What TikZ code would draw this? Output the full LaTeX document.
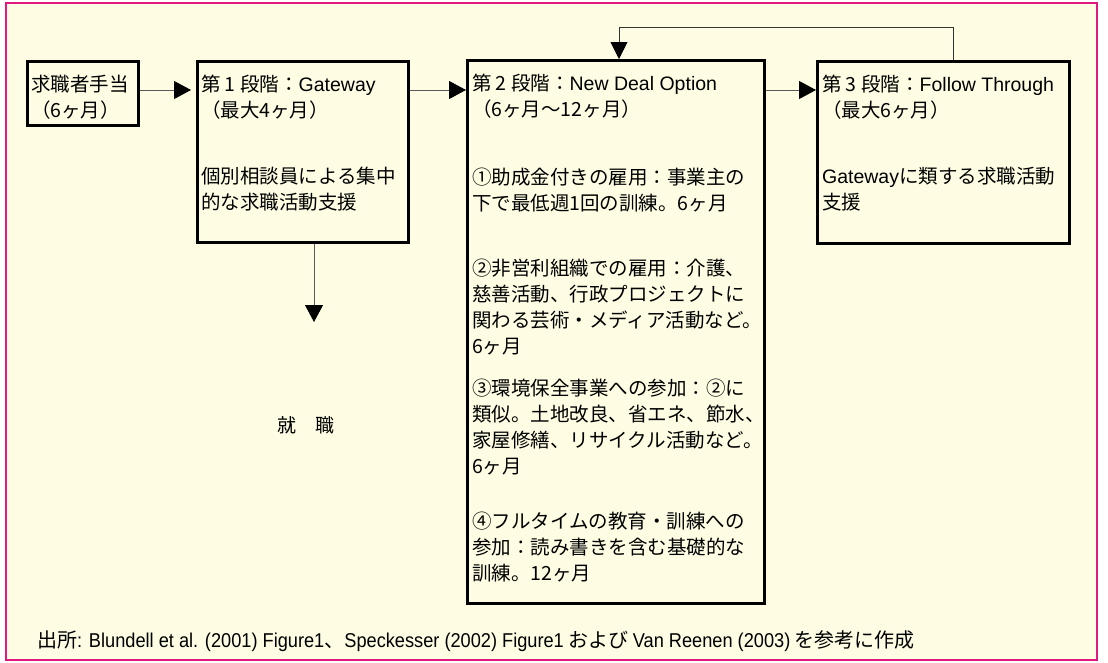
\documentclass[tikz,border=0pt]{standalone}
\usepackage{fontspec}
\setmainfont{Noto Sans CJK JP}
\newfontfamily\lat{Liberation Sans}
\newfontfamily\nar[FakeStretch=0.91]{Liberation Sans}
\usetikzlibrary{arrows.meta}
\definecolor{cream}{HTML}{FEFDE3}
\definecolor{framecol}{HTML}{E0187F}
\definecolor{conn}{HTML}{5A5A5A}
\newcommand\boxtext[3]{\parbox[c][#2pt][t]{#1pt}{\rule{0pt}{29.5pt}#3}}
\begin{document}
\begin{tikzpicture}[x=1pt,y=-1pt,
  box/.style={draw=black, line width=3.2pt, anchor=north west, inner xsep=3pt, inner ysep=0pt,
    font=\fontsize{19.5}{26}\selectfont},
  arr/.style={draw=conn, line width=1pt, -{Triangle[length=17pt,width=18pt,color=black]}},
  fb/.style={draw=black!80, line width=0.9pt, -{Triangle[length=17pt,width=17pt,color=black]}},
  lbl/.style={font=\fontsize{19}{19}\selectfont, inner sep=0pt},
  src/.style={font=\fontsize{20}{22}\selectfont, inner sep=0pt, anchor=west}]
\useasboundingbox (0,0) rectangle (1108,662);
\fill[white] (0,0) rectangle (1108,662);
\draw[framecol, line width=2.4pt, fill=cream] (6,3) rectangle (1097,660);

\node[box, inner xsep=1.5pt, minimum width=111pt, minimum height=64pt] (A) at (26,60)
  {\boxtext{104}{64}{求職者手当\\（6ヶ月）}};
\node[box, inner xsep=1.5pt, minimum width=211pt, minimum height=181pt] (B) at (196,60)
  {\boxtext{204}{181}{第 1 段階：{\lat Gateway}\\（最大4ヶ月）\\[40pt]個別相談員による集中\\的な求職活動支援}};
\node[box, minimum width=297pt, minimum height=543pt] (C) at (466,59)
  {\boxtext{288}{543}{第 2 段階：{\lat New Deal Option}\\（6ヶ月～12ヶ月）\\[42pt]①助成金付きの雇用：事業主の\\下で最低週1回の訓練。6ヶ月\\[39pt]②非営利組織での雇用：介護、\\慈善活動、行政プロジェクトに\\関わる芸術・メディア活動など。\\6ヶ月\\[16pt]③環境保全事業への参加：②に\\類似。土地改良、省エネ、節水、\\家屋修繕、リサイクル活動など。\\6ヶ月\\[29pt]④フルタイムの教育・訓練への\\参加：読み書きを含む基礎的な\\訓練。12ヶ月}};
\node[box, minimum width=252pt, minimum height=182pt] (D) at (816,60)
  {\boxtext{243}{182}{第 3 段階：{\lat Follow Through}\\（最大6ヶ月）\\[40pt]{\lat Gateway}に類する求職活動\\支援}};

\node[lbl] (job) at (306,425) {就　職};
\node[src] (source) at (37,641) {出所{\nar : Blundell et al. (2001) Figure1}、{\nar Speckesser (2002) Figure1} および {\nar Van Reenen (2003)} を参考に作成};

\coordinate (row) at (0,90);
\draw[arr, shorten >=5pt] (A.east |- row) -- (B.west |- row);
\draw[arr] (B.east |- row) -- (C.west |- row);
\draw[arr] (C.east |- row) -- (D.west |- row);
\coordinate (jobtip) at (314,322);
\draw[arr] (B.south -| jobtip) -- (jobtip);
\coordinate (fbR) at (953,27);
\coordinate (fbL) at (619,27);
\draw[fb] (D.north -| fbR) -- (fbR) -- (fbL) -- (C.north -| fbL);
\end{tikzpicture}
\end{document}
